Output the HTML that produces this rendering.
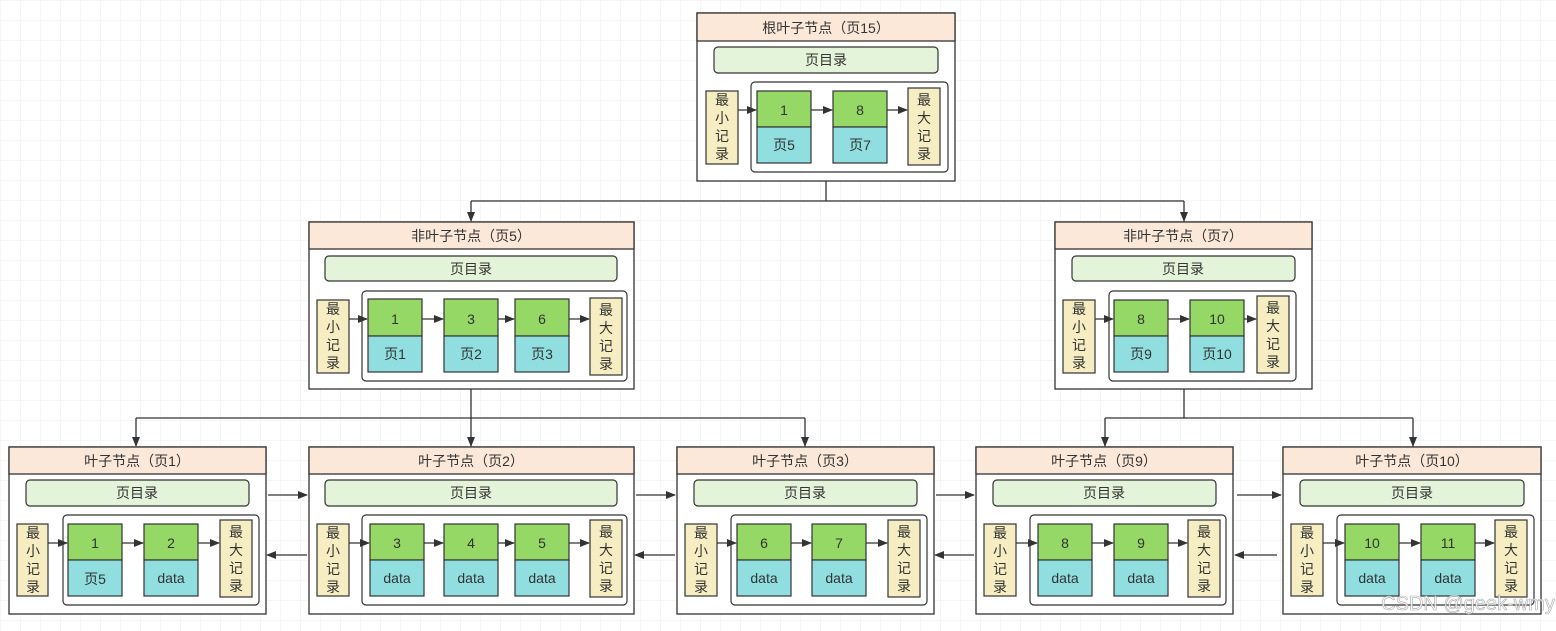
<!DOCTYPE html>
<html><head><meta charset="utf-8"><style>
html,body{margin:0;padding:0;background:#fff}
svg{display:block}
text{font-family:"Liberation Sans","Noto Sans CJK SC",sans-serif;fill:#333;font-size:14px;text-anchor:middle;dominant-baseline:central}
.o{fill:#fff;stroke:#333;stroke-width:1.3}
.h{fill:#FCE8D8;stroke:#333;stroke-width:1.3}
.d{fill:#E4F4DA;stroke:#333;stroke-width:1.2}
.i{fill:#fff;stroke:#333;stroke-width:1.2}
.g{fill:#95D865;stroke:#333;stroke-width:1.2}
.c{fill:#90DEDF;stroke:#333;stroke-width:1.2}
.y{fill:#F6EDC2;stroke:#333;stroke-width:1.2}
.l{stroke:#333;stroke-width:1.3;fill:none}
</style></head><body>
<svg width="1556" height="631" viewBox="0 0 1556 631" xmlns="http://www.w3.org/2000/svg">
<defs>
<pattern id="grid" width="20" height="20" patternUnits="userSpaceOnUse"><path d="M20 0H0V20" fill="none" stroke="#ececec" stroke-width="1"/></pattern>
<marker id="a" markerWidth="10" markerHeight="8" refX="9" refY="4" orient="auto" markerUnits="userSpaceOnUse"><path d="M0 0L10 4L0 8Z" fill="#333"/></marker>
</defs>
<rect width="1556" height="631" fill="url(#grid)"/>

<!-- connectors -->
<path class="l" d="M826 181V201M471 201H1184"/>
<path class="l" d="M471 201V221" marker-end="url(#a)"/>
<path class="l" d="M1184 201V221" marker-end="url(#a)"/>
<path class="l" d="M471 389V418M136 418H805"/>
<path class="l" d="M136 418V446" marker-end="url(#a)"/>
<path class="l" d="M471 418V446" marker-end="url(#a)"/>
<path class="l" d="M805 418V446" marker-end="url(#a)"/>
<path class="l" d="M1184 389V418M1105 418H1413"/>
<path class="l" d="M1105 418V446" marker-end="url(#a)"/>
<path class="l" d="M1413 418V446" marker-end="url(#a)"/>
<path class="l" d="M268 495H307" marker-end="url(#a)"/>
<path class="l" d="M307 555H267" marker-end="url(#a)"/>
<path class="l" d="M636 495H675" marker-end="url(#a)"/>
<path class="l" d="M675 555H635" marker-end="url(#a)"/>
<path class="l" d="M936 495H974" marker-end="url(#a)"/>
<path class="l" d="M974 555H935" marker-end="url(#a)"/>
<path class="l" d="M1237 495H1281" marker-end="url(#a)"/>
<path class="l" d="M1277 555H1235" marker-end="url(#a)"/>

<!-- root -->
<g transform="translate(697,13)">
<rect class="o" x="0" y="0" width="258" height="168"/>
<rect class="h" x="0" y="0" width="258" height="28"/>
<text x="129" y="15">根叶子节点（页15）</text>
<rect class="d" x="17" y="34" width="224" height="26" rx="4"/>
<text x="129" y="47">页目录</text>
<rect class="i" x="54" y="69" width="197" height="90" rx="4"/>
<rect class="y" x="9" y="78" width="32" height="73"/>
<text x="25" y="87">最</text><text x="25" y="105">小</text><text x="25" y="123">记</text><text x="25" y="141">录</text>
<rect class="g" x="60" y="78" width="54" height="36"/><rect class="c" x="60" y="114" width="54" height="36"/>
<text x="87" y="97">1</text><text x="87" y="132">页5</text>
<rect class="g" x="136" y="78" width="54" height="36"/><rect class="c" x="136" y="114" width="54" height="36"/>
<text x="163" y="97">8</text><text x="163" y="132">页7</text>
<rect class="y" x="211" y="75" width="32" height="77"/>
<text x="227" y="87">最</text><text x="227" y="105">大</text><text x="227" y="123">记</text><text x="227" y="141">录</text>
<path class="l" d="M41 97H59" marker-end="url(#a)"/><path class="l" d="M114 97H135" marker-end="url(#a)"/><path class="l" d="M190 97H210" marker-end="url(#a)"/>
</g>

<!-- page5 -->
<g transform="translate(309,222)">
<rect class="o" x="0" y="0" width="325" height="167"/>
<rect class="h" x="0" y="0" width="325" height="27"/>
<text x="162" y="14">非叶子节点（页5）</text>
<rect class="d" x="16" y="34" width="292" height="25" rx="4"/>
<text x="162" y="47">页目录</text>
<rect class="i" x="53" y="69" width="265" height="90" rx="4"/>
<rect class="y" x="8" y="78" width="32" height="73"/>
<text x="24" y="87">最</text><text x="24" y="105">小</text><text x="24" y="123">记</text><text x="24" y="141">录</text>
<rect class="g" x="59" y="77" width="54" height="37"/><rect class="c" x="59" y="114" width="54" height="36"/>
<text x="86" y="97">1</text><text x="86" y="132">页1</text>
<rect class="g" x="135" y="77" width="54" height="37"/><rect class="c" x="135" y="114" width="54" height="36"/>
<text x="162" y="97">3</text><text x="162" y="132">页2</text>
<rect class="g" x="206" y="77" width="54" height="37"/><rect class="c" x="206" y="114" width="54" height="36"/>
<text x="233" y="97">6</text><text x="233" y="132">页3</text>
<rect class="y" x="281" y="76" width="32" height="77"/>
<text x="297" y="88">最</text><text x="297" y="106">大</text><text x="297" y="124">记</text><text x="297" y="142">录</text>
<path class="l" d="M40 97H58" marker-end="url(#a)"/><path class="l" d="M113 97H134" marker-end="url(#a)"/><path class="l" d="M189 97H205" marker-end="url(#a)"/><path class="l" d="M260 97H280" marker-end="url(#a)"/>
</g>

<!-- page7 -->
<g transform="translate(1055,222)">
<rect class="o" x="0" y="0" width="257" height="167"/>
<rect class="h" x="0" y="0" width="257" height="27"/>
<text x="128" y="14">非叶子节点（页7）</text>
<rect class="d" x="17" y="34" width="223" height="25" rx="4"/>
<text x="128" y="47">页目录</text>
<rect class="i" x="54" y="69" width="187" height="90" rx="4"/>
<rect class="y" x="8" y="78" width="32" height="73"/>
<text x="24" y="87">最</text><text x="24" y="105">小</text><text x="24" y="123">记</text><text x="24" y="141">录</text>
<rect class="g" x="59" y="78" width="54" height="36"/><rect class="c" x="59" y="114" width="54" height="36"/>
<text x="86" y="97">8</text><text x="86" y="132">页9</text>
<rect class="g" x="135" y="78" width="54" height="36"/><rect class="c" x="135" y="114" width="54" height="36"/>
<text x="162" y="97">10</text><text x="162" y="132">页10</text>
<rect class="y" x="202" y="74" width="32" height="77"/>
<text x="218" y="86">最</text><text x="218" y="104">大</text><text x="218" y="122">记</text><text x="218" y="140">录</text>
<path class="l" d="M40 97H58" marker-end="url(#a)"/><path class="l" d="M113 97H134" marker-end="url(#a)"/><path class="l" d="M189 97H201" marker-end="url(#a)"/>
</g>

<!-- leaf 1 -->
<g transform="translate(9,447)">
<rect class="o" x="0" y="0" width="257" height="167"/>
<rect class="h" x="0" y="0" width="257" height="27"/>
<text x="128" y="14">叶子节点（页1）</text>
<rect class="d" x="17" y="33" width="223" height="26" rx="4"/>
<text x="128" y="46">页目录</text>
<rect class="i" x="54" y="68" width="196" height="90" rx="4"/>
<rect class="y" x="8" y="77" width="31" height="72"/>
<text x="24" y="86">最</text><text x="24" y="104">小</text><text x="24" y="122">记</text><text x="24" y="140">录</text>
<rect class="g" x="59" y="77" width="54" height="36"/><rect class="c" x="59" y="113" width="54" height="36"/>
<text x="86" y="96">1</text><text x="86" y="132">页5</text>
<rect class="g" x="135" y="77" width="54" height="36"/><rect class="c" x="135" y="113" width="54" height="36"/>
<text x="162" y="96">2</text><text x="162" y="131">data</text>
<rect class="y" x="211" y="73" width="32" height="77"/>
<text x="227" y="85">最</text><text x="227" y="103">大</text><text x="227" y="121">记</text><text x="227" y="139">录</text>
<path class="l" d="M39 96H58" marker-end="url(#a)"/><path class="l" d="M113 96H134" marker-end="url(#a)"/><path class="l" d="M189 96H210" marker-end="url(#a)"/>
</g>

<!-- leaf 2 -->
<g transform="translate(309,447)">
<rect class="o" x="0" y="0" width="325" height="167"/>
<rect class="h" x="0" y="0" width="325" height="27"/>
<text x="162" y="14">叶子节点（页2）</text>
<rect class="d" x="16" y="33" width="292" height="26" rx="4"/>
<text x="162" y="46">页目录</text>
<rect class="i" x="53" y="68" width="265" height="90" rx="4"/>
<rect class="y" x="8" y="77" width="32" height="72"/>
<text x="24" y="86">最</text><text x="24" y="104">小</text><text x="24" y="122">记</text><text x="24" y="140">录</text>
<rect class="g" x="61" y="77" width="54" height="36"/><rect class="c" x="61" y="113" width="54" height="36"/>
<text x="88" y="96">3</text><text x="88" y="131">data</text>
<rect class="g" x="135" y="77" width="54" height="36"/><rect class="c" x="135" y="113" width="54" height="36"/>
<text x="162" y="96">4</text><text x="162" y="131">data</text>
<rect class="g" x="206" y="77" width="54" height="36"/><rect class="c" x="206" y="113" width="54" height="36"/>
<text x="233" y="96">5</text><text x="233" y="131">data</text>
<rect class="y" x="281" y="73" width="32" height="77"/>
<text x="297" y="85">最</text><text x="297" y="103">大</text><text x="297" y="121">记</text><text x="297" y="139">录</text>
<path class="l" d="M40 96H60" marker-end="url(#a)"/><path class="l" d="M115 96H134" marker-end="url(#a)"/><path class="l" d="M189 96H205" marker-end="url(#a)"/><path class="l" d="M260 96H280" marker-end="url(#a)"/>
</g>

<!-- leaf 3 -->
<g transform="translate(677,447)">
<rect class="o" x="0" y="0" width="257" height="167"/>
<rect class="h" x="0" y="0" width="257" height="27"/>
<text x="128" y="14">叶子节点（页3）</text>
<rect class="d" x="17" y="33" width="223" height="26" rx="4"/>
<text x="128" y="46">页目录</text>
<rect class="i" x="54" y="68" width="196" height="90" rx="4"/>
<rect class="y" x="8" y="77" width="32" height="72"/>
<text x="24" y="86">最</text><text x="24" y="104">小</text><text x="24" y="122">记</text><text x="24" y="140">录</text>
<rect class="g" x="60" y="77" width="54" height="36"/><rect class="c" x="60" y="113" width="54" height="36"/>
<text x="87" y="96">6</text><text x="87" y="131">data</text>
<rect class="g" x="135" y="77" width="54" height="36"/><rect class="c" x="135" y="113" width="54" height="36"/>
<text x="162" y="96">7</text><text x="162" y="131">data</text>
<rect class="y" x="211" y="73" width="32" height="77"/>
<text x="227" y="85">最</text><text x="227" y="103">大</text><text x="227" y="121">记</text><text x="227" y="139">录</text>
<path class="l" d="M40 96H59" marker-end="url(#a)"/><path class="l" d="M114 96H134" marker-end="url(#a)"/><path class="l" d="M189 96H210" marker-end="url(#a)"/>
</g>

<!-- leaf 9 -->
<g transform="translate(976,447)">
<rect class="o" x="0" y="0" width="257" height="167"/>
<rect class="h" x="0" y="0" width="257" height="27"/>
<text x="128" y="14">叶子节点（页9）</text>
<rect class="d" x="17" y="33" width="223" height="26" rx="4"/>
<text x="128" y="46">页目录</text>
<rect class="i" x="54" y="68" width="196" height="90" rx="4"/>
<rect class="y" x="8" y="77" width="32" height="72"/>
<text x="24" y="86">最</text><text x="24" y="104">小</text><text x="24" y="122">记</text><text x="24" y="140">录</text>
<rect class="g" x="62" y="77" width="54" height="36"/><rect class="c" x="62" y="113" width="54" height="36"/>
<text x="89" y="96">8</text><text x="89" y="131">data</text>
<rect class="g" x="138" y="77" width="54" height="36"/><rect class="c" x="138" y="113" width="54" height="36"/>
<text x="165" y="96">9</text><text x="165" y="131">data</text>
<rect class="y" x="212" y="73" width="32" height="77"/>
<text x="228" y="85">最</text><text x="228" y="103">大</text><text x="228" y="121">记</text><text x="228" y="139">录</text>
<path class="l" d="M40 96H61" marker-end="url(#a)"/><path class="l" d="M116 96H137" marker-end="url(#a)"/><path class="l" d="M192 96H211" marker-end="url(#a)"/>
</g>

<!-- leaf 10 -->
<g transform="translate(1283,447)">
<rect class="o" x="0" y="0" width="258" height="167"/>
<rect class="h" x="0" y="0" width="258" height="27"/>
<text x="129" y="14">叶子节点（页10）</text>
<rect class="d" x="17" y="33" width="224" height="26" rx="4"/>
<text x="129" y="46">页目录</text>
<rect class="i" x="54" y="68" width="197" height="90" rx="4"/>
<rect class="y" x="8" y="77" width="32" height="72"/>
<text x="24" y="86">最</text><text x="24" y="104">小</text><text x="24" y="122">记</text><text x="24" y="140">录</text>
<rect class="g" x="62" y="77" width="54" height="36"/><rect class="c" x="62" y="113" width="54" height="36"/>
<text x="89" y="96">10</text><text x="89" y="131">data</text>
<rect class="g" x="138" y="77" width="54" height="36"/><rect class="c" x="138" y="113" width="54" height="36"/>
<text x="165" y="96">11</text><text x="165" y="131">data</text>
<rect class="y" x="212" y="73" width="32" height="77"/>
<text x="228" y="85">最</text><text x="228" y="103">大</text><text x="228" y="121">记</text><text x="228" y="139">录</text>
<path class="l" d="M40 96H61" marker-end="url(#a)"/><path class="l" d="M116 96H137" marker-end="url(#a)"/><path class="l" d="M192 96H211" marker-end="url(#a)"/>
</g>

<text x="1468" y="604" style="font-size:20px;fill:#fff;stroke:#999;stroke-width:0.6;opacity:0.85">CSDN @geek-wmy</text>
</svg>
</body></html>
